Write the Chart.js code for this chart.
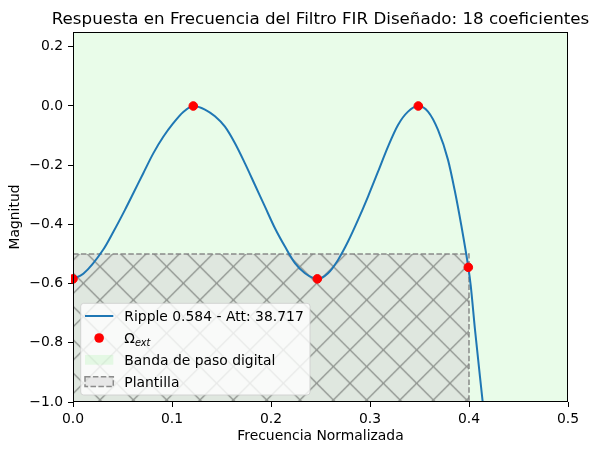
<!DOCTYPE html>
<html>
<head>
<meta charset="utf-8">
<script src="https://cdn.jsdelivr.net/npm/chart.js@4"></script>
<style>
  html, body { margin:0; padding:0; background:#fff; }
  canvas { display:block; }
</style>
</head>
<body>
<canvas id="ch_fir" width="598" height="455"></canvas>
<script>
// curva (frecuencia normalizada / magnitud)
const frecuencia = [0, 0.0104, 0.0306, 0.0408, 0.0525, 0.0609, 0.071, 0.0811, 0.0912, 0.1013, 0.1114, 0.1215,
  0.1333, 0.1434, 0.1535, 0.1636, 0.1737, 0.1838, 0.1939, 0.204, 0.2141, 0.2242, 0.2343, 0.2468,
  0.2576, 0.2677, 0.2778, 0.2879, 0.298, 0.3081, 0.3182, 0.3283, 0.3384, 0.3488,
  0.3586, 0.3687, 0.3788, 0.3855, 0.3922, 0.3993, 0.4017, 0.4061, 0.4138, 0.417];
const magnitud = [-0.584, -0.567, -0.485, -0.425, -0.351, -0.295, -0.227, -0.160, -0.104, -0.058, -0.020, 0,
  -0.012, -0.035, -0.070, -0.126, -0.194, -0.267, -0.340, -0.413, -0.475, -0.531, -0.565, -0.584,
  -0.565, -0.520, -0.458, -0.385, -0.306, -0.222, -0.137, -0.064, -0.019, 0,
  -0.019, -0.081, -0.182, -0.284, -0.403, -0.545, -0.605, -0.757, -0.999, -1.10];

// extremos
const extFrec = [0, 0.1215, 0.2468, 0.3488, 0.3993];
const extMag  = [-0.584, 0, -0.584, 0, -0.545];

// banda de paso y plantilla
const bandaX = [0, 0.5];
const plantillaX = [0, 0.4];
const plantillaY = [-1, -0.5];

const xTicks = [0, 0.1, 0.2, 0.3, 0.4, 0.5];
const yTicks = [-1, -0.8, -0.6, -0.4, -0.2, 0, 0.2];

const titulo = 'Respuesta en Frecuencia del Filtro FIR Diseñado: 18 coeficientes';
const labelRipple = 'Ripple 0.584 - Att: 38.717';

const FONT = '"DejaVu Sans", sans-serif';
const fmt = v => (Math.abs(v) < 1e-9 ? 0 : v).toFixed(1).replace('-', '\u2212');

function hatchPattern(ctx){
  const s = 100, step = 100/3;
  const c = document.createElement('canvas');
  c.width = s; c.height = s;
  const g = c.getContext('2d');
  g.fillStyle = 'rgb(223,231,223)';
  g.fillRect(0,0,s,s);
  g.strokeStyle = 'rgba(128,132,128,0.85)';
  g.lineWidth = 1.3;
  g.beginPath();
  for (let k=-6;k<=6;k++){
    const o = k*step;
    g.moveTo(o, 0); g.lineTo(o+s, s);
    g.moveTo(o, s); g.lineTo(o+s, 0);
  }
  g.stroke();
  const p = ctx.createPattern(c, 'repeat');
  p.setTransform(new DOMMatrix().translate(350, 283.3));
  return p;
}

const fondo = {
  id:'fondo',
  beforeDraw(chart){
    const {ctx, chartArea:a, scales:{x}} = chart;
    ctx.save();
    ctx.fillStyle = '#fff';
    ctx.fillRect(0,0,chart.width,chart.height);
    // banda de paso digital
    ctx.fillStyle = 'rgba(144,238,144,0.2)';
    ctx.fillRect(x.getPixelForValue(bandaX[0]), a.top, x.getPixelForValue(bandaX[1]) - x.getPixelForValue(bandaX[0]), a.bottom - a.top);
    ctx.restore();
  },
  beforeDatasetsDraw(chart){
    const {ctx, chartArea:a, scales:{x,y}} = chart;
    const x0 = x.getPixelForValue(plantillaX[0]), x1 = x.getPixelForValue(plantillaX[1]);
    const y0 = y.getPixelForValue(plantillaY[0]), y1 = y.getPixelForValue(plantillaY[1]);
    ctx.save();
    ctx.beginPath(); ctx.rect(a.left, a.top, a.right-a.left, a.bottom-a.top); ctx.clip();
    ctx.fillStyle = hatchPattern(ctx);
    ctx.fillRect(x0, y1, x1-x0, y0-y1);
    ctx.strokeStyle = 'rgba(128,128,128,0.9)';
    ctx.lineWidth = 1.5;
    ctx.setLineDash([5.5, 2.4]);
    ctx.strokeRect(x0, y1, x1-x0, y0-y1);
    ctx.restore();
  },
  afterDraw(chart){
    const {ctx, chartArea:a} = chart;
    ctx.save();
    // marco
    ctx.strokeStyle = '#000'; ctx.lineWidth = 1;
    ctx.strokeRect(Math.round(a.left)+0.5, Math.round(a.top)+0.5, Math.round(a.right-a.left)-1, Math.round(a.bottom-a.top)-1);
    // titulo
    ctx.fillStyle = '#000';
    ctx.font = '16.7px ' + FONT;
    ctx.textAlign = 'center'; ctx.textBaseline = 'alphabetic';
    ctx.fillText(titulo, (a.left+a.right)/2, a.top - 8.3);

    // leyenda
    const L = 80.7, T = 303.3, W = 229.3, H = 91.7;
    ctx.beginPath();
    ctx.roundRect(L, T, W, H, 3);
    ctx.fillStyle = 'rgba(255,255,255,0.8)'; ctx.fill();
    ctx.strokeStyle = 'rgba(204,204,204,0.8)'; ctx.lineWidth = 1; ctx.stroke();

    const hx = 85, hw = 28.3, tx = 124.3, rows = [316, 338, 359.8, 381.7];
    ctx.strokeStyle = '#1f77b4'; ctx.lineWidth = 2;
    ctx.beginPath(); ctx.moveTo(hx, rows[0]); ctx.lineTo(hx+hw, rows[0]); ctx.stroke();
    ctx.fillStyle = '#ff0000';
    ctx.beginPath(); ctx.arc(hx+hw/2, rows[1], 4.8, 0, Math.PI*2); ctx.fill();
    ctx.fillStyle = 'rgba(144,238,144,0.2)';
    ctx.fillRect(hx, rows[2]-4.85, hw, 9.7);
    ctx.fillStyle = 'rgba(128,128,128,0.15)';
    ctx.fillRect(hx, rows[3]-4.85, hw, 9.7);
    ctx.strokeStyle = 'rgba(128,128,128,0.9)'; ctx.lineWidth = 1.5; ctx.setLineDash([5.5, 2.4]);
    ctx.strokeRect(hx, rows[3]-4.85, hw, 9.7);
    ctx.setLineDash([]);

    ctx.fillStyle = '#000'; ctx.textAlign = 'left'; ctx.textBaseline = 'alphabetic';
    ctx.font = '13.9px ' + FONT;
    ctx.fillText(labelRipple, tx, rows[0]+5.2);
    ctx.fillText('\u03A9', tx, rows[1]+5.2);
    const wO = ctx.measureText('\u03A9').width;
    ctx.font = 'italic 9.7px ' + FONT;
    ctx.fillText('ext', tx + wO, rows[1]+7.6);
    ctx.font = '13.9px ' + FONT;
    ctx.fillText('Banda de paso digital', tx, rows[2]+5.2);
    ctx.fillText('Plantilla', tx, rows[3]+5.2);
    ctx.restore();
  }
};

const curva = frecuencia.map((f,i) => ({x:f, y:magnitud[i]}));
const extremos = extFrec.map((f,i) => ({x:f, y:extMag[i]}));

const tickFont = { family: FONT, size: 13.9 };

new Chart(document.getElementById('ch_fir'), {
  type: 'line',
  data: { datasets: [
    { label: labelRipple, data: curva, borderColor:'#1f77b4', borderWidth:2, pointRadius:0,
      cubicInterpolationMode:'monotone', fill:false, order:2 },
    { type:'scatter', label:'\u03A9ext', data: extremos, backgroundColor:'#ff0000', borderColor:'#ff0000',
      pointRadius:4.3, borderWidth:1, order:1, clip:{left:2, right:6, top:6, bottom:6} }
  ]},
  options: {
    responsive:false, animation:false, devicePixelRatio:1,
    layout:{ padding:{ top:32, right:30, left:0, bottom:0 } },
    plugins:{ legend:{display:false}, tooltip:{enabled:false}, title:{display:false} },
    scales:{
      x:{ type:'linear', min:0, max:0.5,
        afterBuildTicks: s => { s.ticks = xTicks.map(v => ({value:v})); },
        afterFit: s => { s.height = 53; },
        ticks:{ color:'#000', font:tickFont, padding:4, maxRotation:0, callback: v => fmt(v) },
        grid:{ drawOnChartArea:false, drawTicks:true, tickLength:5, tickColor:'#000' },
        border:{ display:false },
        title:{ display:true, text:'Frecuencia Normalizada', color:'#000', font:{family:FONT, size:13.9}, padding:{top:0, bottom:10} }
      },
      y:{ type:'linear', min:-1, max:0.25,
        afterBuildTicks: s => { s.ticks = yTicks.map(v => ({value:v})); },
        afterFit: s => { s.width = 73; },
        ticks:{ color:'#000', font:tickFont, padding:5, callback: v => fmt(v) },
        grid:{ drawOnChartArea:false, drawTicks:true, tickLength:5, tickColor:'#000' },
        border:{ display:false },
        title:{ display:true, text:'Magnitud', color:'#000', font:{family:FONT, size:13.9}, padding:{top:7.5, bottom:0} }
      }
    }
  },
  plugins:[fondo]
});
</script>
</body>
</html>
